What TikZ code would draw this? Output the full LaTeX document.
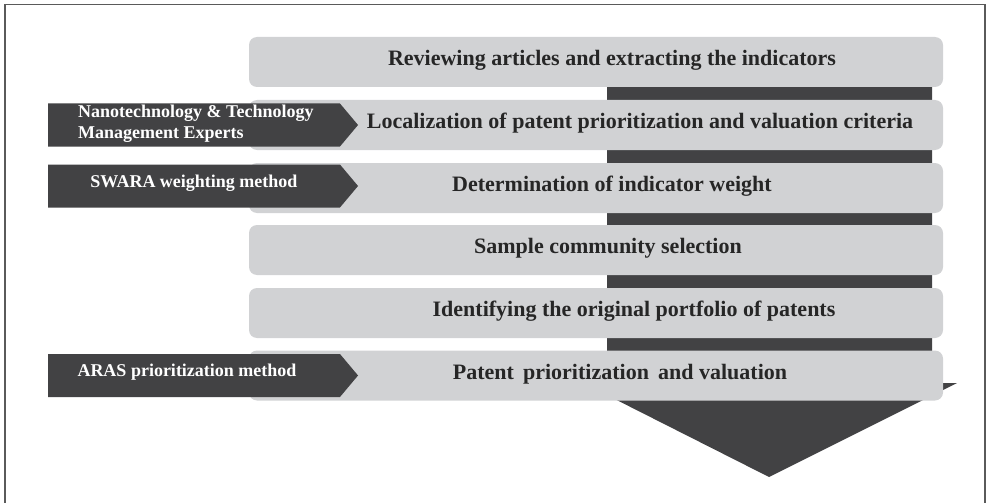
\documentclass[tikz,border=0pt]{standalone}
\usepackage{fontspec}
\setmainfont{Liberation Serif}
\usetikzlibrary{shapes.symbols}
\definecolor{lightbox}{HTML}{D1D2D4}
\definecolor{darkfill}{HTML}{424244}
\definecolor{framegray}{HTML}{5A5A5A}
\tikzset{
  stepbox/.style={fill=lightbox, rounded corners=8pt, minimum width=694pt, minimum height=50pt, inner sep=0pt},
  steptext/.style={font=\fontsize{22}{25}\selectfont\bfseries, text=black!85, inner sep=0pt},
  chevron/.style={signal, signal to=east, signal pointer angle=100, fill=darkfill, draw=none,
                  minimum width=310pt, minimum height=43pt, inner sep=0pt},
  chevtext/.style={font=\fontsize{18}{21}\selectfont\bfseries, text=white, inner sep=0pt, align=left},
  flow/.style={fill=darkfill, draw=none}
}
\begin{document}
\begin{tikzpicture}[x=1pt, y=-1pt]
\useasboundingbox (0,0) rectangle (989,503);
% outer frame
\draw[framegray, line width=1.2pt] (5,4.5) -- (985,4.5) -- (985,520) (5,4.5) -- (5,520);

% downward flow arrow behind the steps
\coordinate (shaftTL) at (607,87);
\coordinate (shaftTR) at (932,87);
\coordinate (headL) at (583,383);
\coordinate (headR) at (957,383);
\coordinate (tip) at (769,477);
\fill[flow] (shaftTL) -- (shaftTR) -- (932,383) -- (headR) -- (tip) -- (headL) -- (607,383) -- cycle;

% process steps
\node[stepbox] (s1) at (596,62) {};
\node[stepbox] (s2) at (596,125) {};
\node[stepbox] (s3) at (596,188) {};
\node[stepbox] (s4) at (596,250) {};
\node[stepbox] (s5) at (596,313) {};
\node[stepbox] (s6) at (596,375.5) {};

% inputs to the steps
\node[chevron] (c1) at (194,125) {};
\node[chevron] (c2) at (194,186) {};
\node[chevron] (c3) at (194,375.5) {};

% step labels
\node[steptext] (t1) at (612,60) {Reviewing articles and extracting the indicators};
\node[steptext] (t2) at (640,123) {Localization of patent prioritization and valuation criteria};
\node[steptext] (t3) at (612,186) {Determination of indicator weight};
\node[steptext] (t4) at (608,248) {Sample community selection};
\node[steptext] (t5) at (634,311) {Identifying the original portfolio of patents};
\node[steptext] (t6) at (620,374) {Patent\, prioritization\, and valuation};

% input labels
\node[chevtext, anchor=west] (l1) at (78,124) {Nanotechnology \& Technology\\Management Experts};
\node[chevtext] (l2) at (194,183) {SWARA weighting method};
\node[chevtext] (l3) at (187,372) {ARAS prioritization method};
\end{tikzpicture}
\end{document}
